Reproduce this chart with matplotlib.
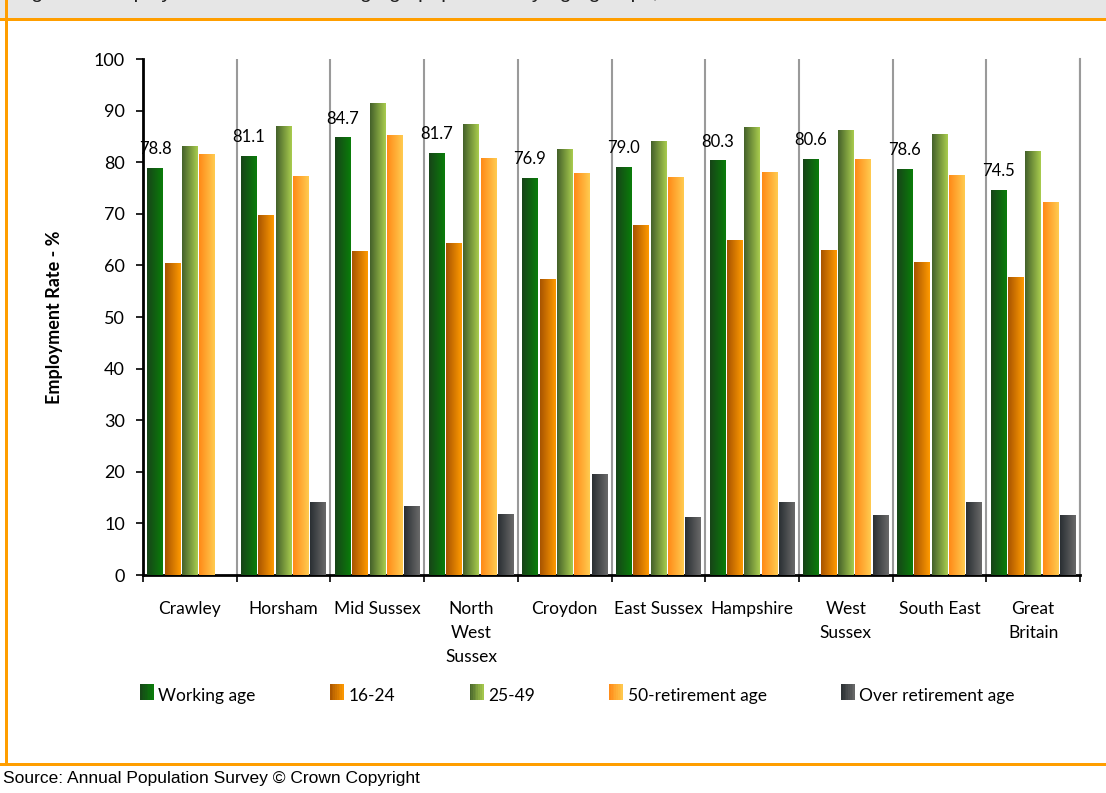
import numpy as np
import matplotlib
matplotlib.use("Agg")
import matplotlib.pyplot as plt
from matplotlib.colors import LinearSegmentedColormap
from matplotlib.patches import Rectangle
from matplotlib.legend_handler import HandlerBase

plt.rcParams['font.family'] = ['Lato', 'DejaVu Sans']

areas = ['Crawley', 'Horsham', 'Mid Sussex', 'North\nWest\nSussex', 'Croydon',
         'East Sussex', 'Hampshire', 'West\nSussex', 'South East', 'Great\nBritain']
series = ['Working age', '16-24', '25-49', '50-retirement age', 'Over retirement age']

working_age = [78.8, 81.1, 84.7, 81.7, 76.9, 79.0, 80.3, 80.6, 78.6, 74.5]
age_16_24 = [60.3, 69.6, 62.6, 64.3, 57.2, 67.8, 64.9, 62.8, 60.5, 57.6]
age_25_49 = [83.1, 87.0, 91.3, 87.4, 82.4, 84.1, 86.7, 86.2, 85.3, 82.0]
age_50_ret = [81.4, 77.3, 85.1, 80.8, 77.9, 77.0, 78.1, 80.6, 77.5, 72.1]
over_ret = [np.nan, 14.1, 13.3, 11.8, 19.5, 11.2, 14.0, 11.6, 14.0, 11.6]

values = [working_age, age_16_24, age_25_49, age_50_ret, over_ret]
# left -> right colours of the horizontal gradient on each bar
grads = [('#174418', '#0a7d0a'),
         ('#a85400', '#ff9a00'),
         ('#44612a', '#a9cc4e'),
         ('#ff8a17', '#ffcb50'),
         ('#2a2f33', '#6a6a6a')]
cmaps = [LinearSegmentedColormap.from_list('g%d' % i, [a, b]) for i, (a, b) in enumerate(grads)]

fig = plt.figure(figsize=(11.06, 7.93), dpi=100)

# frame: grey header, orange rules
fig.patches.append(Rectangle((0, 1 - 18 / 793), 1, 18 / 793, transform=fig.transFigure,
                             facecolor='#e6e6e6', edgecolor='none', zorder=0))
fig.patches.append(Rectangle((0, 1 - 21 / 793), 1, 3 / 793, transform=fig.transFigure,
                             facecolor='#ff9e00', edgecolor='none', zorder=1))
fig.patches.append(Rectangle((0, 1 - 766 / 793), 1, 3 / 793, transform=fig.transFigure,
                             facecolor='#ff9e00', edgecolor='none', zorder=1))
fig.patches.append(Rectangle((5 / 1106, 1 - 766 / 793), 3 / 1106, 766 / 793, transform=fig.transFigure,
                             facecolor='#ff9e00', edgecolor='none', zorder=1))
# title line is cut off at the top edge in the original
fig.text(14 / 1106, 1 + 2 / 793, 'Figure 1: Employment rates of working age population by age groups, 2009',
         family='Liberation Sans', fontsize=15, va='baseline', ha='left', color='#222222')
fig.text(3 / 1106, 1 - 778 / 793, 'Source: Annual Population Survey \u00a9 Crown Copyright',
         family='Liberation Sans', fontsize=12.5, va='center', ha='left')

ax = fig.add_axes([143 / 1106, 1 - 575 / 793, (1080 - 143) / 1106, (575 - 59) / 793])

x = np.arange(len(areas))
step = 0.185
width = 0.165
for k, vals in enumerate(values):
    bars = ax.bar(x + (k - 2) * step, vals, width, color='none', edgecolor='none',
                  label=series[k])
    for b in bars:
        h = b.get_height()
        if np.isnan(h):
            continue
        x0 = b.get_x()
        ax.imshow(np.linspace(0, 1, 64).reshape(1, -1), cmap=cmaps[k], aspect='auto',
                  extent=[x0, x0 + b.get_width(), 0, h], zorder=3, interpolation='bilinear')
    if k == 0:
        for b, v in zip(bars, vals):
            ax.annotate('%.1f' % v, (b.get_x() + b.get_width() / 2, v), xytext=(0, 8),
                        textcoords='offset points', ha='center', va='bottom', fontsize=12)

ax.set_xlim(-0.5, len(areas) - 0.5)
ax.set_ylim(0, 100)
ax.set_yticks(range(0, 101, 10))
ax.tick_params(axis='y', labelsize=13, direction='out', length=5, width=1.2, pad=8)
ax.set_xticks(np.arange(-0.5, len(areas), 1.0))
ax.set_xticklabels([])
ax.set_xticks(x, minor=True)
ax.set_xticklabels(areas, minor=True, fontsize=12.5, va='top', linespacing=1.6)
ax.tick_params(axis='x', which='major', direction='out', length=5, width=1.2)
ax.tick_params(axis='x', which='minor', length=0, pad=19)
for b in np.arange(0.5, len(areas), 1.0):
    ax.axvline(b, color='#9a9a9a', lw=1.5, zorder=1)
ax.spines['top'].set_visible(False)
ax.spines['right'].set_color('#9a9a9a')
ax.spines['right'].set_linewidth(1.5)
ax.spines['left'].set_linewidth(2)
ax.spines['bottom'].set_linewidth(2)
ax.set_ylabel('Employment Rate - %', fontsize=13, fontweight='bold', labelpad=22)


class GradHandler(HandlerBase):
    def create_artists(self, legend, orig, xd, yd, w, h, fontsize, trans):
        cm = orig.cmap_
        n = 8
        arts = []
        for i in range(n):
            arts.append(Rectangle((xd + w * i / n, yd), w / n + 0.2, h,
                                  facecolor=cm((i + 0.5) / n), edgecolor='none', transform=trans))
        return arts


handles = []
for k in range(5):
    r = Rectangle((0, 0), 1, 1)
    r.cmap_ = cmaps[k]
    handles.append(r)
fig.legend(handles, series, handler_map={Rectangle: GradHandler()}, ncol=5,
           loc='center', bbox_to_anchor=(0.522, 1 - 696 / 793), frameon=False,
           fontsize=12.5, handlelength=0.8, handleheight=1.0, handletextpad=0.25,
           columnspacing=4.3)

fig.savefig('out.png', dpi=100)
